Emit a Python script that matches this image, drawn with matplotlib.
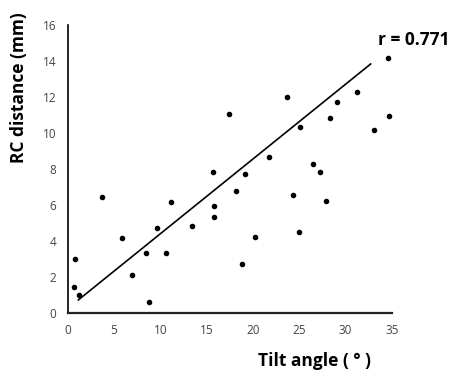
import matplotlib
matplotlib.use('Agg')
import matplotlib.pyplot as plt
import numpy as np

# Tilt angle (deg) vs RC distance (mm)
tilt = [0.82, 0.72, 1.25, 3.74, 5.83, 6.91, 8.42, 8.81, 9.68, 10.58,
        11.19, 13.42, 15.77, 15.83, 15.72, 17.45, 18.2, 18.86, 19.15, 20.26,
        21.74, 23.71, 24.33, 24.95, 25.12, 26.49, 27.21, 27.9, 28.36, 29.08,
        31.27, 33.08, 34.56, 34.7]
rc_dist = [3.0, 1.41, 0.98, 6.43, 4.13, 2.11, 3.33, 0.61, 4.72, 3.33,
           6.13, 4.8, 5.91, 5.32, 7.83, 11.04, 6.76, 2.72, 7.72, 4.2,
           8.63, 11.97, 6.52, 4.5, 10.32, 8.24, 7.82, 6.22, 10.83, 11.69,
           12.26, 10.13, 14.15, 10.93]

# trend line as drawn in the figure
fit_x = [1.15, 32.7]
fit_y = [0.71, 13.82]

x_ticks = [0, 5, 10, 15, 20, 25, 30, 35]
y_ticks = [0, 2, 4, 6, 8, 10, 12, 14, 16]

plt.rcParams['font.family'] = ['Open Sans', 'DejaVu Sans']

fig = plt.figure(figsize=(4.74, 3.80), dpi=100)
ax = fig.add_axes([0.1428, 0.177, 0.827 - 0.1428, 0.935 - 0.177])

ax.scatter(tilt, rc_dist, s=9, color='black', zorder=3)
ax.plot(fit_x, fit_y, color='black', linewidth=1.2)

ax.set_xlim(0, 35)
ax.set_ylim(0, 16)
ax.set_xticks(x_ticks)
ax.set_yticks(y_ticks)
ax.tick_params(axis='both', length=0, labelsize=8.5, labelcolor='#444444')
ax.tick_params(axis='x', pad=8)
ax.tick_params(axis='y', pad=8)

for s in ['top', 'right']:
    ax.spines[s].set_visible(False)
ax.spines['left'].set_linewidth(1.2)
ax.spines['bottom'].set_linewidth(1.6)
ax.spines['bottom'].set_color('#222222')

ax.text(33.5, 15.15, 'r = 0.771', fontsize=12.5, fontweight='bold', va='center', ha='left')

fig.text(19 / 474, 1 - 88 / 380, 'RC distance (mm)', rotation=90, fontsize=12.5,
         fontweight='bold', ha='center', va='center')
fig.text(314 / 474, 1 - 361 / 380, 'Tilt angle ( \u00b0 )', fontsize=12.5,
         fontweight='bold', ha='center', va='center')

fig.savefig('out.png', dpi=100)
